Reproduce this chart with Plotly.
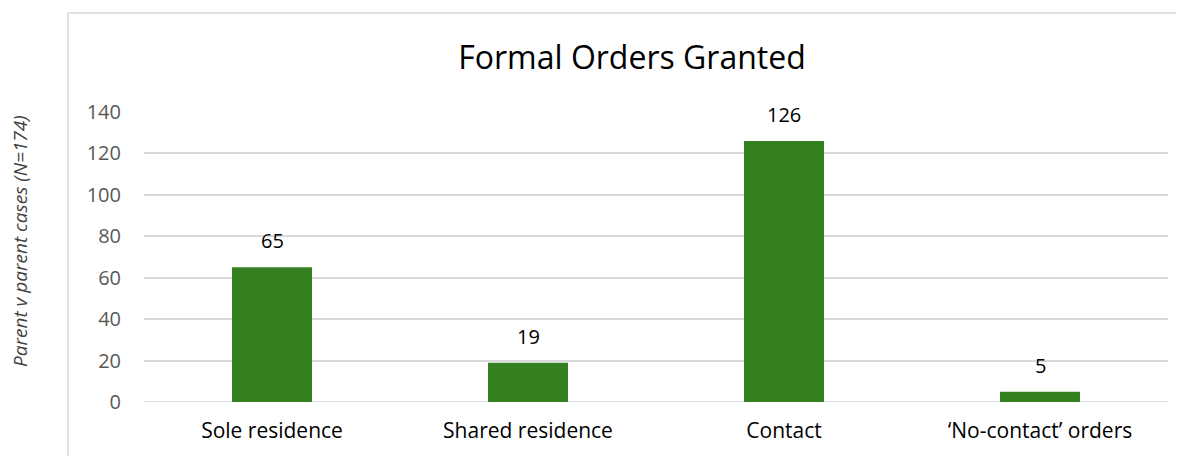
import plotly.graph_objects as go

categories = ["Sole residence", "Shared residence", "Contact", "\u2018No-contact\u2019 orders"]
values = [65, 19, 126, 5]
tick_vals = [0, 20, 40, 60, 80, 100, 120, 140]

FONT = "Open Sans, Lato, sans-serif"
BAR = "#348020"

W, H = 1176, 448
L, R, T, B = 136, 16, 104, 54
PW = W - L - R
PH = H - T - B

fig = go.Figure(go.Bar(
    x=categories, y=values, width=0.3125,
    marker=dict(color=BAR, line=dict(width=0)),
    cliponaxis=False,
))

label_annots = [dict(x=c, y=v, xref="x", yref="y", text=str(v), showarrow=False,
                     xanchor="center", yanchor="bottom", yshift=11,
                     font=dict(family=FONT, size=20, color="#000000"))
                for c, v in zip(categories, values)]

fig.update_layout(
    width=W, height=H,
    margin=dict(l=L, r=R, t=T, b=B),
    paper_bgcolor="white", plot_bgcolor="white",
    showlegend=False,
    title=dict(text="Formal Orders Granted", x=624 / W, xanchor="center",
               y=1 - 50 / H, yanchor="middle",
               font=dict(family=FONT, size=32, color="#000000")),
    xaxis=dict(showgrid=False, showline=False, ticks="", ticklabelstandoff=14,
               tickfont=dict(family=FONT, size=21, color="#000000")),
    yaxis=dict(range=[0, 140], tickvals=tick_vals, showline=False, zeroline=False,
               gridcolor="#d9d9d9", gridwidth=1.5, ticks="",
               ticklabelstandoff=22,
               tickfont=dict(family=FONT, size=20, color="#595959")),
    shapes=[dict(type="rect", xref="paper", yref="paper",
                 x0=(60 - L) / PW, x1=1.2, y0=-0.6, y1=(T + PH - 5) / PH,
                 line=dict(color="#d9d9d9", width=1.5), fillcolor="rgba(0,0,0,0)",
                 layer="below")],
    annotations=label_annots + [dict(text="<i>Parent v parent cases (N=174)</i>", textangle=-90,
                      xref="paper", yref="paper",
                      x=(12 - L) / PW, y=(T + PH - 233) / PH,
                      xanchor="center", yanchor="middle", showarrow=False,
                      font=dict(family=FONT, size=19, color="#404040"))],
)
fig.add_shape(type="line", xref="paper", yref="y", x0=0, x1=1, y0=0, y1=0,
              line=dict(color="#d9d9d9", width=1.5), layer="below")

fig.write_html("out.html")
